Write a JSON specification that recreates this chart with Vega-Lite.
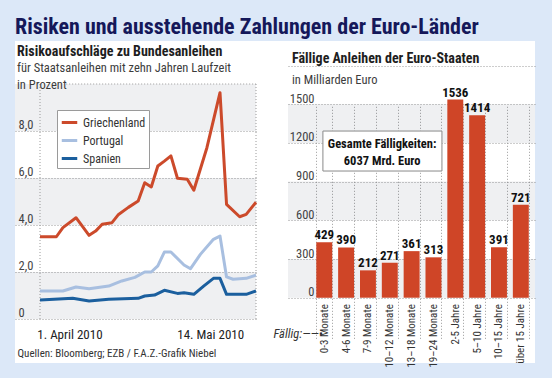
{
  "$schema": "https://vega.github.io/schema/vega-lite/v6.json",
  "background": "#dce8f8",
  "padding": {"left": 15, "right": 17, "top": 16, "bottom": 16},
  "bounds": "flush",
  "spacing": 0,
  "title": {"text": "Risiken und ausstehende Zahlungen der Euro-Länder", "anchor": "start", "fontSize": 22, "fontWeight": "bold", "color": "#15185a", "offset": 2},
  "hconcat": [
    {
      "width": 273,
      "height": 322,
      "view": {"fill": "white", "stroke": null},
      "title": {"text": "Risikoaufschläge zu Bundesanleihen", "subtitle": ["für Staatsanleihen mit zehn Jahren Laufzeit", "in Prozent"], "anchor": "start", "frame": "group", "offset": -50, "dx": 2, "fontSize": 14, "fontWeight": "bold", "color": "#1e1e1e", "subtitleFontSize": 12.5, "subtitleColor": "#3c3c3c", "subtitlePadding": 3, "subtitleLineHeight": 17},
      "layer": [
        {
          "data": {"values": [{"lo": 0, "hi": 2}, {"lo": 4, "hi": 6}, {"lo": 8, "hi": 10}]},
          "mark": {"type": "rect", "color": "#1a2a4a", "opacity": 0.07},
          "encoding": {
            "x": {"datum": {"year": 2010, "month": 3, "date": 15, "hours": 8, "minutes": 40, "utc": true}, "type": "temporal",
              "scale": {"type": "utc", "domain": [{"year": 2010, "month": 3, "date": 15, "hours": 8, "minutes": 40, "utc": true}, {"year": 2010, "month": 5, "date": 28, "utc": true}], "range": [0, 241]},
              "axis": {"values": [{"year": 2010, "month": 4, "date": 1, "utc": true}, {"year": 2010, "month": 5, "date": 14, "utc": true}], "labelExpr": "utcmonth(datum.value) == 3 ? '1. April 2010' : '14. Mai 2010'", "grid": false, "ticks": false, "domain": false, "offset": -44, "labelPadding": 9, "labelFontSize": 13, "labelColor": "#222", "labelFlush": false, "labelOverlap": false, "title": "Quellen: Bloomberg; EZB / F.A.Z.-Grafik Niebel", "titleFontSize": 11, "titleFontWeight": "normal", "titleColor": "#333", "titleAlign": "left", "titleAnchor": "start", "titleBaseline": "alphabetic", "titleX": 2, "titleY": 37}},
            "x2": {"datum": {"year": 2010, "month": 5, "date": 28, "utc": true}},
            "y": {"field": "lo", "type": "quantitative", "scale": {"domain": [0, 10], "range": [278, 43], "nice": false},
              "axis": {"values": [0, 2, 4, 6, 8], "labelExpr": "datum.value == 0 ? '0' : replace(format(datum.value, '.1f'), '.', ',')", "grid": true, "gridColor": "#9a9a9a", "gridDash": [1, 2], "ticks": false, "domain": false, "labelAlign": "left", "labelPadding": -3, "labelBaseline": "alphabetic", "labelOffset": -3, "labelFontSize": 12.5, "labelColor": "#444", "title": null}},
            "y2": {"field": "hi"}
          }
        },
        {
          "data": {"values": [{"tag": "2010-03-23"}, {"tag": "2010-05-28"}]},
          "mark": {"type": "rule", "color": "#9a9a9a", "strokeDash": [1, 2]},
          "encoding": {
            "x": {"field": "tag", "type": "temporal"},
            "y": {"datum": 0, "type": "quantitative"},
            "y2": {"datum": 10}
          }
        },
        {
          "data": {"values": [{"von": "2010-03-31", "bis": "2010-05-28"}]},
          "mark": {"type": "rule", "color": "#9a9a9a", "strokeDash": [1, 2]},
          "encoding": {
            "x": {"field": "von", "type": "temporal"},
            "x2": {"field": "bis"},
            "y": {"datum": 10, "type": "quantitative"}
          }
        },
        {
          "data": {"values": [
            {"tag": "2010-03-23", "land": "Griechenland", "wert": 3.50},
            {"tag": "2010-03-28", "land": "Griechenland", "wert": 3.50},
            {"tag": "2010-03-30", "land": "Griechenland", "wert": 3.89},
            {"tag": "2010-04-03", "land": "Griechenland", "wert": 4.31},
            {"tag": "2010-04-07", "land": "Griechenland", "wert": 3.56},
            {"tag": "2010-04-09", "land": "Griechenland", "wert": 3.74},
            {"tag": "2010-04-11", "land": "Griechenland", "wert": 4.03},
            {"tag": "2010-04-14", "land": "Griechenland", "wert": 4.10},
            {"tag": "2010-04-16", "land": "Griechenland", "wert": 4.45},
            {"tag": "2010-04-19", "land": "Griechenland", "wert": 4.75},
            {"tag": "2010-04-22", "land": "Griechenland", "wert": 5.02},
            {"tag": "2010-04-24", "land": "Griechenland", "wert": 5.80},
            {"tag": "2010-04-26", "land": "Griechenland", "wert": 5.62},
            {"tag": "2010-04-28", "land": "Griechenland", "wert": 6.51},
            {"tag": "2010-04-30", "land": "Griechenland", "wert": 6.72},
            {"tag": "2010-05-02", "land": "Griechenland", "wert": 6.94},
            {"tag": "2010-05-04", "land": "Griechenland", "wert": 5.99},
            {"tag": "2010-05-07", "land": "Griechenland", "wert": 5.95},
            {"tag": "2010-05-09", "land": "Griechenland", "wert": 5.48},
            {"tag": "2010-05-13", "land": "Griechenland", "wert": 7.29},
            {"tag": "2010-05-17", "land": "Griechenland", "wert": 9.63},
            {"tag": "2010-05-19", "land": "Griechenland", "wert": 4.88},
            {"tag": "2010-05-23", "land": "Griechenland", "wert": 4.35},
            {"tag": "2010-05-25", "land": "Griechenland", "wert": 4.45},
            {"tag": "2010-05-28", "land": "Griechenland", "wert": 4.97},
            {"tag": "2010-03-23", "land": "Portugal", "wert": 1.19},
            {"tag": "2010-03-30", "land": "Portugal", "wert": 1.19},
            {"tag": "2010-04-03", "land": "Portugal", "wert": 1.36},
            {"tag": "2010-04-07", "land": "Portugal", "wert": 1.29},
            {"tag": "2010-04-13", "land": "Portugal", "wert": 1.40},
            {"tag": "2010-04-17", "land": "Portugal", "wert": 1.62},
            {"tag": "2010-04-21", "land": "Portugal", "wert": 1.77},
            {"tag": "2010-04-24", "land": "Portugal", "wert": 2.00},
            {"tag": "2010-04-26", "land": "Portugal", "wert": 2.00},
            {"tag": "2010-04-28", "land": "Portugal", "wert": 2.26},
            {"tag": "2010-04-30", "land": "Portugal", "wert": 2.85},
            {"tag": "2010-05-02", "land": "Portugal", "wert": 2.85},
            {"tag": "2010-05-06", "land": "Portugal", "wert": 2.30},
            {"tag": "2010-05-08", "land": "Portugal", "wert": 2.14},
            {"tag": "2010-05-11", "land": "Portugal", "wert": 2.75},
            {"tag": "2010-05-15", "land": "Portugal", "wert": 3.39},
            {"tag": "2010-05-17", "land": "Portugal", "wert": 3.53},
            {"tag": "2010-05-19", "land": "Portugal", "wert": 1.79},
            {"tag": "2010-05-21", "land": "Portugal", "wert": 1.69},
            {"tag": "2010-05-25", "land": "Portugal", "wert": 1.73},
            {"tag": "2010-05-28", "land": "Portugal", "wert": 1.87},
            {"tag": "2010-03-23", "land": "Spanien", "wert": 0.81},
            {"tag": "2010-04-02", "land": "Spanien", "wert": 0.88},
            {"tag": "2010-04-07", "land": "Spanien", "wert": 0.77},
            {"tag": "2010-04-13", "land": "Spanien", "wert": 0.84},
            {"tag": "2010-04-22", "land": "Spanien", "wert": 0.88},
            {"tag": "2010-04-24", "land": "Spanien", "wert": 0.98},
            {"tag": "2010-04-27", "land": "Spanien", "wert": 1.02},
            {"tag": "2010-04-30", "land": "Spanien", "wert": 1.22},
            {"tag": "2010-05-04", "land": "Spanien", "wert": 1.09},
            {"tag": "2010-05-06", "land": "Spanien", "wert": 1.12},
            {"tag": "2010-05-09", "land": "Spanien", "wert": 1.05},
            {"tag": "2010-05-12", "land": "Spanien", "wert": 1.40},
            {"tag": "2010-05-15", "land": "Spanien", "wert": 1.73},
            {"tag": "2010-05-17", "land": "Spanien", "wert": 1.73},
            {"tag": "2010-05-19", "land": "Spanien", "wert": 1.05},
            {"tag": "2010-05-25", "land": "Spanien", "wert": 1.05},
            {"tag": "2010-05-28", "land": "Spanien", "wert": 1.19}
          ]},
          "mark": {"type": "line", "strokeWidth": 3, "strokeJoin": "round"},
          "encoding": {
            "x": {"field": "tag", "type": "temporal"},
            "y": {"field": "wert", "type": "quantitative"},
            "color": {"field": "land", "type": "nominal",
              "scale": {"domain": ["Griechenland", "Portugal", "Spanien"], "range": ["#cc4a2b", "#a8bfe0", "#1b5f9e"]},
              "legend": {"orient": "none", "legendX": 42, "legendY": 69, "title": null, "symbolType": "stroke", "symbolStrokeWidth": 3, "symbolSize": 240, "labelFontSize": 12, "labelColor": "#333", "strokeColor": "#9a9a9a", "fillColor": "white", "padding": 3, "rowPadding": 2, "labelOffset": 4}}
          }
        }
      ]
    },
    {
      "width": 247,
      "height": 322,
      "view": {"fill": "white", "stroke": null},
      "title": {"text": "Fällige Anleihen der Euro-Staaten", "subtitle": "in Milliarden Euro", "anchor": "start", "frame": "group", "offset": -45, "dx": 4, "fontSize": 14, "fontWeight": "bold", "color": "#1e1e1e", "subtitleFontSize": 12.5, "subtitleColor": "#3c3c3c", "subtitlePadding": 8},
      "layer": [
        {
          "layer": [
            {
              "data": {"values": [{"lo": 0, "hi": 300}, {"lo": 600, "hi": 900}, {"lo": 1200, "hi": 1500}]},
              "mark": {"type": "rect", "color": "#1a2a4a", "opacity": 0.07},
              "encoding": {
                "y": {"field": "lo", "type": "quantitative", "scale": {"domain": [0, 1800], "range": [256.7, 24.5], "nice": false},
                  "axis": {"values": [0, 300, 600, 900, 1200, 1500, 1800], "labelExpr": "datum.value == 1800 ? '' : format(datum.value, 'd')", "grid": true, "gridColor": "#9a9a9a", "gridDash": [1, 2], "ticks": false, "domain": false, "labelAlign": "right", "labelPadding": -26, "labelBaseline": "alphabetic", "labelOffset": -2, "labelFontSize": 12.5, "labelColor": "#444", "title": null}},
                "y2": {"field": "hi"}
              }
            },
            {
              "data": {"values": [
                {"frist": "0-3 Monate", "mrd": 429},
                {"frist": "4-6 Monate", "mrd": 390},
                {"frist": "7-9 Monate", "mrd": 212},
                {"frist": "10–12 Monate", "mrd": 271},
                {"frist": "13–18 Monate", "mrd": 361},
                {"frist": "19–24 Monate", "mrd": 313},
                {"frist": "2-5 Jahre", "mrd": 1536},
                {"frist": "5–10 Jahre", "mrd": 1414},
                {"frist": "10–15 Jahre", "mrd": 391},
                {"frist": "über 15 Jahre", "mrd": 721}
              ]},
              "layer": [
                {
                  "mark": {"type": "bar", "color": "#cf4527"},
                  "encoding": {
                    "x": {"field": "frist", "type": "nominal", "sort": null,
                      "scale": {"range": [0, 247], "paddingInner": 0.27, "paddingOuter": 0.79, "align": 0.82},
                      "axis": {"labelAngle": -90, "labelFontSize": 11, "labelColor": "#333", "ticks": false, "domain": false, "grid": true, "gridColor": "#9a9a9a", "gridDash": [1, 2], "tickBand": "extent", "offset": -65.3, "labelPadding": 6, "title": "Fällig:——•", "titleAngle": 0, "titleFontStyle": "italic", "titleFontWeight": "normal", "titleFontSize": 12.5, "titleColor": "#333", "titleAlign": "left", "titleBaseline": "alphabetic", "titleX": -15, "titleY": 40}},
                    "y": {"field": "mrd", "type": "quantitative"}
                  }
                },
                {
                  "mark": {"type": "text", "dy": -3, "baseline": "alphabetic", "fontWeight": "bold", "fontSize": 13, "color": "#111"},
                  "encoding": {
                    "x": {"field": "frist", "type": "nominal", "sort": null},
                    "y": {"field": "mrd", "type": "quantitative"},
                    "text": {"field": "mrd"}
                  }
                }
              ]
            }
          ]
        },
        {
          "data": {"values": [{"summe": 6037}]},
          "layer": [
            {
              "mark": {"type": "rect", "fill": "white", "stroke": "#8a8a8a", "strokeWidth": 1},
              "encoding": {
                "x": {"datum": 0.44, "type": "quantitative", "scale": {"domain": [0, 10], "range": [25.3, 243.7]}, "axis": null},
                "x2": {"datum": 5.89},
                "y": {"datum": 1292, "type": "quantitative"},
                "y2": {"datum": 982}
              }
            },
            {
              "mark": {"type": "text", "fontWeight": "bold", "fontSize": 12.5, "lineHeight": 17, "baseline": "alphabetic", "align": "center", "color": "#111"},
              "encoding": {
                "x": {"datum": 3.15, "type": "quantitative"},
                "y": {"datum": 1164, "type": "quantitative"},
                "text": {"value": ["Gesamte Fälligkeiten:", "6037 Mrd. Euro"]}
              }
            }
          ]
        }
      ],
      "resolve": {"scale": {"x": "independent"}}
    }
  ],
  "config": {"font": "Liberation Sans Narrow, Roboto Condensed, Roboto, sans-serif", "view": {"stroke": null}}
}
